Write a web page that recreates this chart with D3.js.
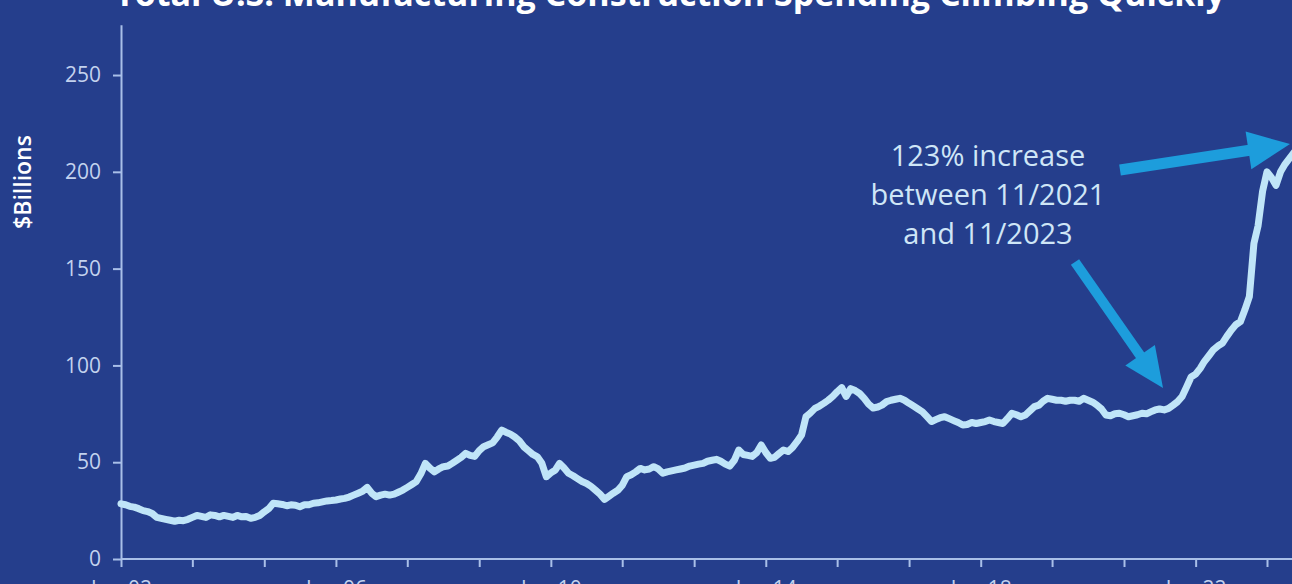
<!DOCTYPE html>
<html>
<head>
<meta charset="utf-8">
<script src="https://cdn.jsdelivr.net/npm/d3@7/dist/d3.min.js"></script>
<style>
  html, body { margin: 0; padding: 0; background: #253e8c; overflow: hidden; }
  svg { display: block; }
</style>
</head>
<body>
<svg id="chart" width="1292" height="584"></svg>
<script>
// ---- data ----
const titleText = "Total U.S. Manufacturing Construction Spending Climbing Quickly";
const yAxisTitle = "$Billions";
const startYear = 2002;          // first month: Jan 2002, monthly through Nov 2023
const v2002 = [28.5, 28, 27.2, 26.8, 26, 25, 24.5, 23.5, 21.5, 21, 20.5, 20];
const v2003 = [19.5, 20, 19.8, 20.5, 21.5, 22.5, 22, 21.5, 22.8, 22.5, 21.8, 22.5];
const v2004 = [22, 21.5, 22.5, 21.8, 22, 21, 21.5, 22.5, 24.4, 26, 28.8, 28.5];
const v2005 = [28.2, 27.5, 28, 27.8, 27, 28, 28, 28.8, 29, 29.5, 30, 30.2];
const v2006 = [30.5, 31, 31.3, 32, 33, 34, 35, 37, 34, 32.2, 33, 33.5];
const v2007 = [33, 33.5, 34.5, 35.6, 37, 38.5, 40, 44, 49.4, 47, 45, 46.5];
const v2008 = [47.7, 48, 49.4, 51, 52.5, 54.6, 53.5, 53, 56, 58, 59, 60];
const v2009 = [63, 66.6, 65.5, 64.5, 63, 61, 58, 56, 54, 52.8, 49.4, 42.5];
const v2010 = [44.5, 46, 49.4, 47, 44.3, 43, 41.5, 40, 39, 37.5, 35.5, 33.5];
const v2011 = [30.8, 32.5, 34, 35.5, 38, 42.5, 43.5, 45, 46.8, 46, 46.5, 47.7];
const v2012 = [46.5, 44.3, 45, 45.5, 46, 46.5, 47, 48, 48.5, 49, 49.4, 50.5];
const v2013 = [51, 51.5, 50.5, 49, 48, 51, 56.3, 54, 53.5, 53, 55, 58.9];
const v2014 = [55, 52, 52.5, 54.5, 56.3, 55.5, 57.5, 60.6, 64, 73.5, 75.5, 77.8];
const v2015 = [79, 80.5, 82, 84, 86.4, 88.5, 84, 88, 87, 85.5, 83, 80];
const v2016 = [78, 78.5, 79.5, 81.3, 82, 82.5, 83, 82, 80.4, 79, 77.5, 76];
const v2017 = [73.5, 71, 72, 73, 73.5, 72.5, 71.5, 70.5, 69.2, 69.5, 70.5, 70];
const v2018 = [70.5, 71, 71.8, 71, 70.5, 70, 72.5, 75.3, 74.5, 73.5, 74.4, 76.5];
const v2019 = [78.7, 79.5, 81.5, 83, 82.5, 82, 82, 81.5, 82, 82, 81.5, 83];
const v2020 = [82, 81, 79.5, 77.5, 74.4, 74, 75, 75.3, 74.5, 73.5, 74, 74.5];
const v2021 = [75.3, 75, 76, 77, 77.5, 77, 77.8, 79.5, 81.3, 84, 89, 94];
const v2022 = [95.5, 98.5, 102, 105, 108, 110, 111.4, 115, 118.3, 121, 122.6, 128.6];
const v2023 = [135.5, 163, 172, 190, 200, 197, 193, 200, 204, 207, 210];
const yTickValues = [0, 50, 100, 150, 200, 250];
const xTickLabels = ["Jan-02", "", "", "Jan-06", "", "", "Jan-10", "", "", "Jan-14", "", "", "Jan-18", "", "", "Jan-22", ""];
const annotationLines = ["123% increase", "between 11/2021", "and 11/2023"];

// ---- build series ----
const yearly = [v2002, v2003, v2004, v2005, v2006, v2007, v2008, v2009, v2010, v2011, v2012,
                v2013, v2014, v2015, v2016, v2017, v2018, v2019, v2020, v2021, v2022, v2023];
const series = [];
yearly.forEach((arr, yi) => arr.forEach((v, mi) => series.push({ date: new Date(startYear + yi, mi, 1), value: v })));
const xTickDates = xTickLabels.map((_, i) => new Date(startYear, i * 16, 1));

// ---- layout ----
const W = 1292, H = 584;
const BG = "#253e8c", AXIS = "#a9bfe8", LABEL = "#c3d2ee", LINE = "#c0e5f8", ARROW = "#1d9ddc";
const svg = d3.select("#chart");
svg.append("rect").attr("width", W).attr("height", H).attr("fill", BG);

const x = d3.scaleTime()
  .domain([new Date(startYear, 0, 1), xTickDates[xTickDates.length - 1]])
  .range([121, 1267]);
const y = d3.scaleLinear().domain([0, 276]).range([559, 24.7]);

// title (cut at top like the reference)
svg.append("text")
  .attr("x", 670).attr("y", 6)
  .attr("text-anchor", "middle")
  .attr("font-family", "Open Sans, sans-serif")
  .attr("font-weight", 700).attr("font-size", 34)
  .attr("fill", "#ffffff")
  .text(titleText);

// y axis
const yAxis = svg.append("g").attr("transform", "translate(121,0)")
  .call(d3.axisLeft(y).tickValues(yTickValues).tickSize(8).tickSizeOuter(0).tickPadding(12));
yAxis.select(".domain").attr("stroke", AXIS).attr("stroke-width", 2);
yAxis.selectAll(".tick line").attr("stroke", AXIS).attr("stroke-width", 2);
yAxis.selectAll(".tick text").attr("fill", LABEL)
  .attr("font-family", "Open Sans, sans-serif").attr("font-size", 21);

// x axis
const xAxis = svg.append("g").attr("transform", "translate(0,559)")
  .call(d3.axisBottom(x).tickValues(xTickDates).tickSize(8).tickSizeOuter(0).tickPadding(14)
    .tickFormat((d, i) => xTickLabels[i]));
xAxis.select(".domain").attr("d", `M${x.range()[0]},0H${W + 5}`).attr("stroke", AXIS).attr("stroke-width", 2);
xAxis.selectAll(".tick line").attr("stroke", AXIS).attr("stroke-width", 2);
xAxis.selectAll(".tick text").attr("fill", LABEL)
  .attr("font-family", "Open Sans, sans-serif").attr("font-size", 21);

// y axis title
svg.append("text")
  .attr("transform", "translate(23,182) rotate(-90)")
  .attr("text-anchor", "middle").attr("dy", "0.35em")
  .attr("font-family", "Open Sans, sans-serif")
  .attr("font-weight", 600).attr("font-size", 23)
  .attr("fill", "#ffffff")
  .text(yAxisTitle);

// line
const line = d3.line().x(d => x(d.date)).y(d => y(d.value));
svg.append("path").datum(series)
  .attr("d", line)
  .attr("fill", "none").attr("stroke", LINE)
  .attr("stroke-width", 7).attr("stroke-linejoin", "round").attr("stroke-linecap", "round");

// annotation text
const ann = svg.append("text")
  .attr("text-anchor", "middle")
  .attr("font-family", "Open Sans, sans-serif").attr("font-size", 29)
  .attr("fill", "#cfe6f7");
annotationLines.forEach((t, i) => ann.append("tspan").attr("x", 988).attr("y", 166 + i * 39).text(t));

// arrows
function arrow(x1, y1, x2, y2, shaft, headLen, headW) {
  const ang = Math.atan2(y2 - y1, x2 - x1);
  const len = Math.hypot(x2 - x1, y2 - y1);
  const g = svg.append("g").attr("transform", `translate(${x1},${y1}) rotate(${ang * 180 / Math.PI})`);
  g.append("rect").attr("x", 0).attr("y", -shaft / 2).attr("width", len - headLen + 1).attr("height", shaft).attr("fill", ARROW);
  g.append("path").attr("d", `M${len},0L${len - headLen},${-headW / 2}L${len - headLen},${headW / 2}Z`).attr("fill", ARROW);
}
arrow(1120, 170, 1290, 144, 11, 42, 38);
arrow(1075, 262, 1163, 388, 10, 40, 36);
</script>
</body>
</html>
